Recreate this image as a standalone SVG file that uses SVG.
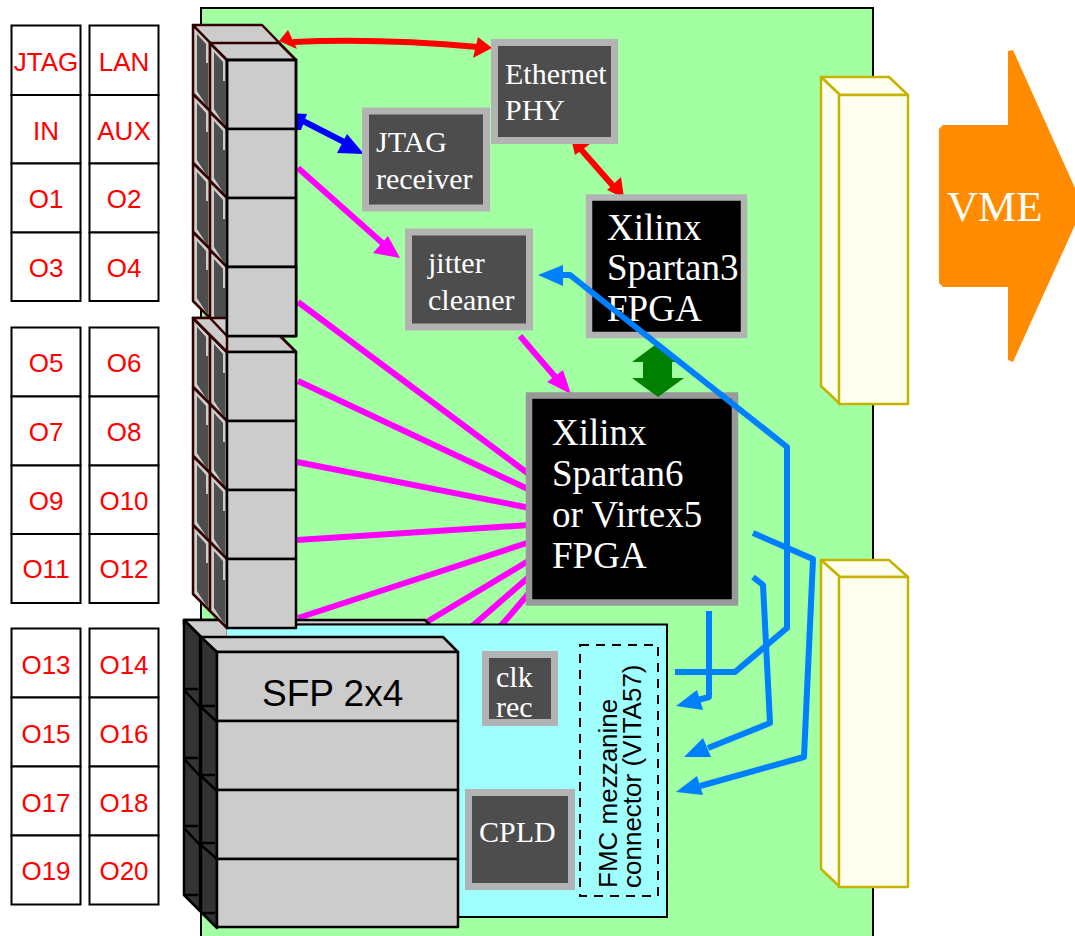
<svg xmlns="http://www.w3.org/2000/svg" width="1075" height="936" viewBox="0 0 1075 936">
<defs>
<style>
.port{fill:#fff;stroke:#000;stroke-width:2}
.pl{font:26px "Liberation Sans",Arial,sans-serif;fill:#f00;text-anchor:middle}
.s{font-family:"Liberation Serif","Times New Roman",serif;fill:#fff}
.top{fill:#ccc;stroke:#000;stroke-width:2.5;stroke-linejoin:round}
.side{fill:#ccc;stroke:#300;stroke-width:2.5;stroke-linejoin:round}
.in{fill:#4d4d4d;stroke:none}
.sd{fill:#333;stroke:#000;stroke-width:2.5;stroke-linejoin:round}
.ch{fill:#ffffef;stroke:#c4b400;stroke-width:2.5;stroke-linejoin:round}
.c{fill:none;stroke-linejoin:round;stroke-linecap:butt}
.m{stroke:#f0f;stroke-width:6}
.b{stroke:#007fff;stroke-width:6}
.g{fill:#4d4d4d;stroke:#b3b3b3;stroke-width:7}
.k{fill:#000;stroke-width:6.5}
</style>
<g id="panel">
<path class="side" d="M0 0L17 17V86L0 69Z"/>
<path class="in" d="M4 9L13 19V38H15V82L13 80 4 66Z"/>
</g>
</defs>
<rect x="201" y="8" width="672" height="940" fill="#a2ffa2" stroke="#000" stroke-width="2"/>

<g id="ports">
<g class="port"><rect x="11.5" y="25.5" width="69" height="69.5"/><rect x="11.5" y="95" width="69" height="68.5"/><rect x="11.5" y="163.500" width="69" height="69"/><rect x="11.5" y="232.500" width="69" height="68.500"/>
<rect x="89.500" y="25.500" width="69" height="69.500"/><rect x="89.500" y="95" width="69" height="68.500"/><rect x="89.500" y="163.500" width="69" height="69"/><rect x="89.500" y="232.500" width="69" height="68.500"/>
<rect x="11.500" y="327.500" width="69" height="69"/><rect x="11.500" y="396.500" width="69" height="69"/><rect x="11.500" y="465.500" width="69" height="68.500"/><rect x="11.500" y="534" width="69" height="69"/>
<rect x="89.500" y="327.500" width="69" height="69"/><rect x="89.500" y="396.500" width="69" height="69"/><rect x="89.500" y="465.500" width="69" height="68.500"/><rect x="89.500" y="534" width="69" height="69"/>
<rect x="11.500" y="628.500" width="69" height="69"/><rect x="11.500" y="697.500" width="69" height="69"/><rect x="11.500" y="766.500" width="69" height="69"/><rect x="11.500" y="835.500" width="69" height="69"/>
<rect x="89.500" y="628.500" width="69" height="69"/><rect x="89.500" y="697.500" width="69" height="69"/><rect x="89.500" y="766.500" width="69" height="69"/><rect x="89.500" y="835.500" width="69" height="69"/></g>
<g class="pl">
<text x="46" y="71">JTAG</text><text x="124" y="71">LAN</text><text x="46" y="140">IN</text><text x="124" y="140">AUX</text><text x="46" y="208">O1</text><text x="124" y="208">O2</text><text x="46" y="277">O3</text><text x="124" y="277">O4</text>
<text x="46" y="372">O5</text><text x="124" y="372">O6</text><text x="46" y="441">O7</text><text x="124" y="441">O8</text><text x="46" y="510">O9</text><text x="124" y="510">O10</text><text x="46" y="578">O11</text><text x="124" y="578">O12</text>
<text x="46" y="674">O13</text><text x="124" y="674">O14</text><text x="46" y="743">O15</text><text x="124" y="743">O16</text><text x="46" y="812">O17</text><text x="124" y="812">O18</text><text x="46" y="880">O19</text><text x="124" y="880">O20</text></g>
</g>

<g id="connectors">
<g class="c m">
<path d="M298 168L388 248"/>
<path d="M520 336L557 379"/>
<path d="M298 302L530 475"/>
<path d="M298 381L530 490"/>
<path d="M297 462L530 508"/>
<path d="M297 540L530 525"/>
<path d="M298 618L530 542"/>
<path d="M420 626L530 560"/>
<path d="M470 628L530 576"/>
<path d="M499 628L530 592"/>
</g>
<path d="M400 258L373 253 388 236Z" fill="#f0f"/>
<path d="M571 394L547 382 563 370Z" fill="#f0f"/>
<path class="c" d="M293 42Q380 38 478 47" stroke="#f00" stroke-width="6"/>
<path d="M279 41L288 30 297 49Z" fill="#f00"/>
<path d="M492 48L478 37 473 58Z" fill="#f00"/>
<path class="c" d="M578 146L614 187" stroke="#f00" stroke-width="6"/>
<path d="M571 138L590 144 575 155Z" fill="#f00"/>
<path d="M624 198L607 190 621 177Z" fill="#f00"/>
<path class="c" d="M303 121L350 145" stroke="#00f" stroke-width="6"/>
<path d="M290 113L307 114 301 130 290 130Z" fill="#00f"/>
<path d="M364 154L337 153 347 134Z" fill="#00f"/>
</g>

<g id="sfp-back">
<path class="top" d="M184 620H425L430 625H184Z"/>
<path class="top" d="M184 620H228V640H204Z"/>
<path class="sd" d="M184 620L200 636V911L184 895Z"/>
<path fill="none" stroke="#000" stroke-width="2.500" d="M184 689H198M184 690L200 707M184 758H198M184 759L200 776M184 826H198M184 828L200 845M184 895H198"/>
</g>

<g id="fmc">
<rect x="227" y="625" width="440" height="292" fill="#9fffff"/>
<path d="M227 624.500H667V917H440" fill="none" stroke="#000" stroke-width="2"/>
<rect x="580" y="645" width="78" height="251" fill="none" stroke="#000" stroke-width="2" stroke-dasharray="9 7"/>
<text transform="translate(617,888) rotate(-90)" font-family="Liberation Sans,Arial,sans-serif" font-size="26" fill="#000">FMC mezzanine</text>
<text transform="translate(641,888) rotate(-90)" font-family="Liberation Sans,Arial,sans-serif" font-size="26" fill="#000">connector (VITA57)</text>
</g>

<g id="vme-conn-top" class="ch"><path d="M821 77H889L908 95H840Z"/><path d="M821 77L840 95V404L821 386Z"/><rect x="839" y="95" width="69" height="309"/></g>
<g id="vme-conn-bottom" class="ch"><path d="M821 560H889L908 577H840Z"/><path d="M821 560L840 577V887L821 869Z"/><rect x="839" y="577" width="69" height="310"/></g>

<g id="vme"><path d="M943 125H1008V51L1013 50 1075 188V225L1013 362 1008 360V287H943L939 283V129Z" fill="#ff8c00"/><text class="s" x="947" y="221" font-size="43">VME</text></g>

<g id="eth"><rect class="g" x="494.500" y="42.500" width="120" height="98" stroke-width="6"/><text class="s" font-size="30"><tspan x="505" y="84">Ethernet</tspan><tspan x="505" y="120">PHY</tspan></text></g>
<g id="jtag"><rect class="g" x="365.500" y="111" width="121" height="97"/><text class="s" font-size="30"><tspan x="376" y="152">JTAG</tspan><tspan x="376" y="189">receiver</tspan></text></g>
<g id="jitter"><rect class="g" x="408.500" y="232" width="121" height="95"/><text class="s" font-size="30"><tspan x="428" y="273">jitter</tspan><tspan x="428" y="310">cleaner</tspan></text></g>
<g id="spartan3"><rect class="g k" x="589" y="197.500" width="155" height="137.500"/><text class="s" font-size="37"><tspan x="607" y="240">Xilinx</tspan><tspan x="607" y="280">Spartan3</tspan><tspan x="607" y="321">FPGA</tspan></text></g>
<g id="spartan6"><rect class="g k" x="529" y="395.500" width="206" height="207" style="stroke:#999"/><text class="s" font-size="37"><tspan x="552" y="445">Xilinx</tspan><tspan x="552" y="486">Spartan6</tspan><tspan x="552" y="527">or Virtex5</tspan><tspan x="552" y="568">FPGA</tspan></text></g>
<g id="clk"><rect class="g" x="485.500" y="654.500" width="69" height="68"/><text class="s" font-size="30"><tspan x="496" y="687">clk</tspan><tspan x="496" y="717">rec</tspan></text></g>
<g id="cpld"><rect class="g" x="468.500" y="792.500" width="103" height="94"/><text class="s" font-size="30" x="479" y="842">CPLD</text></g>

<path id="green" d="M643 362V378H632L658 397 684 378H672V362H684L655 345 632 362Z" fill="#008000"/>

<g id="blue" class="c b">
<path d="M560 275H570L787 447V628L735 672H675"/>
<path d="M709 611V697L698 700"/>
<path d="M753 577L763 585 770 723 708 748"/>
<path d="M753 533L813 559 804 757 700 786"/>
</g>
<g fill="#007fff">
<path d="M538 275L563 265V286Z"/>
<path d="M676 706L697 690 703 710Z"/>
<path d="M684 757L703 738 711 757Z"/>
<path d="M676 792L697 776 703 795Z"/>
</g>

<g id="rj45-a">
<use href="#panel" x="193" y="25"/><use href="#panel" x="193" y="94"/><use href="#panel" x="193" y="163"/><use href="#panel" x="193" y="232"/>
<path class="side" d="M193 25H262L296 60H227Z"/>
<use href="#panel" x="210" y="43"/><use href="#panel" x="210" y="112"/><use href="#panel" x="210" y="181"/><use href="#panel" x="210" y="250"/>
<path class="side" d="M210 43H279L296 60H227Z"/>
<rect class="top" x="227" y="60" width="69" height="69"/><rect class="top" x="227" y="129" width="69" height="69"/><rect class="top" x="227" y="198" width="69" height="69"/><rect class="top" x="227" y="267" width="69" height="69"/>
</g>
<g id="rj45-b">
<use href="#panel" x="193" y="318"/><use href="#panel" x="193" y="387"/><use href="#panel" x="193" y="456"/><use href="#panel" x="193" y="525"/>
<path class="side" d="M193 318H262L296 352H227Z"/>
<use href="#panel" x="210" y="335"/><use href="#panel" x="210" y="404"/><use href="#panel" x="210" y="473"/><use href="#panel" x="210" y="542"/>
<path class="side" d="M210 335H279L296 352H227Z"/>
<rect class="top" x="227" y="352" width="69" height="69"/><rect class="top" x="227" y="421" width="69" height="69"/><rect class="top" x="227" y="490" width="69" height="69"/><rect class="top" x="227" y="559" width="69" height="69"/>
</g>
<path class="side" d="M193 318L227 352V336L210 318Z" style="fill:#ccc"/>
<path d="M227 60V336H296V60Z" fill="none" stroke="#000" stroke-width="2.500"/>
<rect class="top" x="227" y="267" width="69" height="69"/>

<g id="sfp">
<path class="sd" d="M201 637L217 652V928L201 912Z"/>
<path fill="none" stroke="#000" stroke-width="2.500" d="M201 706H215M201 707L217 722M201 775H215M201 776L217 791M201 843H215M201 845L217 859M201 913H215"/>
<path class="top" d="M201 637H443L458 652H217Z"/>
<rect class="top" x="217" y="652" width="241" height="69"/><rect class="top" x="217" y="721" width="241" height="69"/><rect class="top" x="217" y="790" width="241" height="69"/><rect class="top" x="217" y="859" width="241" height="68"/>
<text x="262" y="706" font-family="Liberation Sans,Arial,sans-serif" font-size="37" fill="#000">SFP 2x4</text>
</g>
</svg>
